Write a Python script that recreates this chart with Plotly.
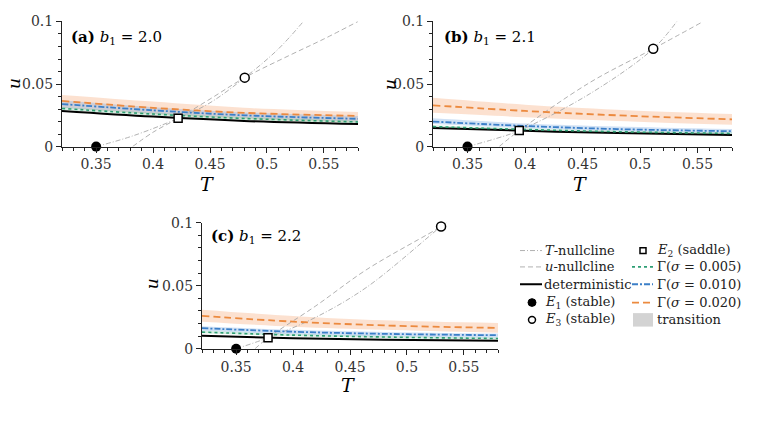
import plotly.graph_objects as go

W, H = 778, 427

# ---------------- data ----------------
T_grid = [0.32, 0.40, 0.48, 0.58]

panels = {
    "a": dict(
        label="(a)", b1="2.0",
        det=[0.0285, 0.0240, 0.0205, 0.0180],
        g005=[0.0305, 0.0260, 0.0225, 0.0197],
        g010=[0.0340, 0.0290, 0.0250, 0.0222],
        g020=[0.0365, 0.0310, 0.0270, 0.0245],
        b005_lo=[0.0293, 0.0248, 0.0213, 0.0185], b005_hi=[0.0317, 0.0272, 0.0237, 0.0209],
        b010_lo=[0.0310, 0.0265, 0.0228, 0.0200], b010_hi=[0.0370, 0.0315, 0.0273, 0.0245],
        b020_lo=[0.0310, 0.0260, 0.0220, 0.0195], b020_hi=[0.0413, 0.0360, 0.0310, 0.0277],
        Tnull_T=[0.35, 0.382, 0.422, 0.450, 0.4805, 0.510, 0.532],
        Tnull_u=[0.0, 0.0085, 0.0226, 0.0350, 0.0551, 0.0780, 0.100],
        unull_T=[0.382, 0.400, 0.422, 0.450, 0.4805, 0.520, 0.550, 0.580],
        unull_u=[0.0, 0.0115, 0.0226, 0.0380, 0.0551, 0.0730, 0.0860, 0.100],
        E1=(0.35, 0.0), E2=(0.422, 0.0226), E3=(0.4805, 0.0551),
    ),
    "b": dict(
        label="(b)", b1="2.1",
        det=[0.0149, 0.0126, 0.0108, 0.0092],
        g005=[0.0160, 0.0137, 0.0119, 0.0105],
        g010=[0.0200, 0.0165, 0.0140, 0.0123],
        g020=[0.0330, 0.0285, 0.0250, 0.0218],
        b005_lo=[0.0150, 0.0128, 0.0110, 0.0096], b005_hi=[0.0170, 0.0146, 0.0128, 0.0114],
        b010_lo=[0.0180, 0.0148, 0.0125, 0.0105], b010_hi=[0.0226, 0.0185, 0.0160, 0.0140],
        b020_lo=[0.0270, 0.0235, 0.0205, 0.0174], b020_hi=[0.0390, 0.0335, 0.0295, 0.0260],
        Tnull_T=[0.35, 0.375, 0.395, 0.456, 0.5115, 0.532],
        Tnull_u=[0.0, 0.0065, 0.0128, 0.0420, 0.0782, 0.100],
        unull_T=[0.3775, 0.395, 0.456, 0.5115, 0.555],
        unull_u=[0.0, 0.0128, 0.0510, 0.0782, 0.100],
        E1=(0.35, 0.0), E2=(0.395, 0.0128), E3=(0.5115, 0.0782),
    ),
    "c": dict(
        label="(c)", b1="2.2",
        det=[0.0102, 0.0083, 0.0072, 0.0064],
        g005=[0.0132, 0.0108, 0.0093, 0.0081],
        g010=[0.0163, 0.0135, 0.0118, 0.0107],
        g020=[0.0260, 0.0215, 0.0185, 0.0165],
        b005_lo=[0.0122, 0.0099, 0.0085, 0.0073], b005_hi=[0.0142, 0.0117, 0.0101, 0.0089],
        b010_lo=[0.0142, 0.0115, 0.0098, 0.0087], b010_hi=[0.0178, 0.0150, 0.0133, 0.0120],
        b020_lo=[0.0214, 0.0175, 0.0150, 0.0127], b020_hi=[0.0310, 0.0260, 0.0225, 0.0204],
        Tnull_T=[0.35, 0.378, 0.420, 0.465, 0.530, 0.536],
        Tnull_u=[0.0, 0.0087, 0.0250, 0.0490, 0.0970, 0.101],
        unull_T=[0.3666, 0.378, 0.420, 0.465, 0.530, 0.536],
        unull_u=[0.0, 0.0087, 0.0340, 0.0630, 0.0970, 0.101],
        E1=(0.35, 0.0), E2=(0.378, 0.0087), E3=(0.530, 0.097),
    ),
}

x_tickvals = [0.35, 0.40, 0.45, 0.50, 0.55]
x_ticktext = ["0.35", "0.4", "0.45", "0.5", "0.55"]
y_tickvals = [0.0, 0.05, 0.1]
y_ticktext = ["0", "0.05", "0.1"]

# ---------------- styles ----------------
FONT = "DejaVu Serif"
C_GREEN = "#2e9e74"
C_BLUE = "#3b7fc8"
C_ORANGE = "#ec8a3f"
C_NULL = "#a8a8a8"
F_GREEN = "rgba(120,200,160,0.30)"
F_BLUE = "rgba(120,170,225,0.35)"
F_ORANGE = "rgba(245,170,120,0.35)"
DASH_T = "5px,2px,1px,2px"
DASH_U = "5px,3px"
DASH_BLUE = "6px,2px,2px,2px"
DASH_OR = "7px,4px"

def px(x):
    return x / W

def py(y):
    return 1 - y / H

# axis domains (pixels)
dom = {
    "a": dict(x=(62, 358), y=(14, 144), ax=""),
    "b": dict(x=(433, 732), y=(14, 144), ax="2"),
    "c": dict(x=(202, 498), y=(223, 354), ax="3"),
}

fig = go.Figure()

for key, p in panels.items():
    s = dom[key]["ax"]
    xa, ya = "x" + s, "y" + s

    def band(lo, hi, fill):
        fig.add_trace(go.Scatter(x=T_grid, y=lo, mode="lines", line=dict(width=0, shape="spline"),
                                 xaxis=xa, yaxis=ya, hoverinfo="skip"))
        fig.add_trace(go.Scatter(x=T_grid, y=hi, mode="lines", line=dict(width=0, shape="spline"),
                                 fill="tonexty", fillcolor=fill, xaxis=xa, yaxis=ya, hoverinfo="skip"))

    band(p["b020_lo"], p["b020_hi"], F_ORANGE)
    band(p["b010_lo"], p["b010_hi"], F_BLUE)
    band(p["b005_lo"], p["b005_hi"], F_GREEN)

    # nullclines
    fig.add_trace(go.Scatter(x=p["Tnull_T"], y=p["Tnull_u"], mode="lines",
                             line=dict(color=C_NULL, width=0.9, dash=DASH_T, shape="spline"),
                             xaxis=xa, yaxis=ya))
    fig.add_trace(go.Scatter(x=p["unull_T"], y=p["unull_u"], mode="lines",
                             line=dict(color=C_NULL, width=0.9, dash=DASH_U, shape="spline"),
                             xaxis=xa, yaxis=ya))

    # curves
    fig.add_trace(go.Scatter(x=T_grid, y=p["det"], mode="lines",
                             line=dict(color="black", width=2, shape="spline"), xaxis=xa, yaxis=ya))
    fig.add_trace(go.Scatter(x=T_grid, y=p["g005"], mode="lines",
                             line=dict(color=C_GREEN, width=1.6, dash="dot", shape="spline"), xaxis=xa, yaxis=ya))
    fig.add_trace(go.Scatter(x=T_grid, y=p["g010"], mode="lines",
                             line=dict(color=C_BLUE, width=1.8, dash=DASH_BLUE, shape="spline"), xaxis=xa, yaxis=ya))
    fig.add_trace(go.Scatter(x=T_grid, y=p["g020"], mode="lines",
                             line=dict(color=C_ORANGE, width=1.8, dash=DASH_OR, shape="spline"), xaxis=xa, yaxis=ya))

    # equilibria
    fig.add_trace(go.Scatter(x=[p["E1"][0]], y=[p["E1"][1]], mode="markers", cliponaxis=False,
                             marker=dict(symbol="circle", size=10, color="black"), xaxis=xa, yaxis=ya))
    fig.add_trace(go.Scatter(x=[p["E2"][0]], y=[p["E2"][1]], mode="markers", cliponaxis=False,
                             marker=dict(symbol="square", size=8, color="white",
                                         line=dict(color="black", width=1.5)), xaxis=xa, yaxis=ya))
    fig.add_trace(go.Scatter(x=[p["E3"][0]], y=[p["E3"][1]], mode="markers", cliponaxis=False,
                             marker=dict(symbol="circle", size=9, color="white",
                                         line=dict(color="black", width=1.5)), xaxis=xa, yaxis=ya))

axis_common = dict(showline=True, linecolor="#222", linewidth=1, ticks="outside", ticklen=5,
                   tickcolor="#222", showgrid=False, zeroline=False,
                   tickfont=dict(family=FONT, size=14, color="#333"))
layout = dict(width=W, height=H, margin=dict(l=0, r=0, t=0, b=0),
              paper_bgcolor="white", plot_bgcolor="white", showlegend=False)

for key, d in dom.items():
    s = d["ax"]
    layout["xaxis" + s] = dict(axis_common, domain=[px(d["x"][0]), px(d["x"][1])], range=[0.32, 0.58],
                               tickvals=x_tickvals, ticktext=x_ticktext, anchor="y" + s,
                               minor=dict(ticks="outside", dtick=0.01, tick0=0.32, ticklen=3, tickcolor="#222"))
    layout["yaxis" + s] = dict(axis_common, domain=[py(d["y"][1]), py(d["y"][0])], range=[0, 0.1],
                               tickvals=y_tickvals, ticktext=y_ticktext, anchor="x" + s,
                               minor=dict(ticks="outside", dtick=0.01, tick0=0, ticklen=3, tickcolor="#222"))

fig.update_layout(**layout)

ann = []
# panel labels
for key, (x0, y0) in {"a": (69, 31), "b": (442, 31), "c": (209, 237)}.items():
    p = panels[key]
    ann.append(dict(text=f"<b>{p['label']}</b> <i>b</i><sub>1</sub> = {p['b1']}", x=px(x0), y=py(y0),
                    xref="paper", yref="paper", xanchor="left", yanchor="middle", showarrow=False,
                    font=dict(family=FONT, size=15, color="black")))
# axis titles
for (x0, y0) in [(207, 183), (580, 183), (348, 392)]:
    ann.append(dict(text="<i>T</i>", x=px(x0), y=py(y0), xref="paper", yref="paper", showarrow=False,
                    xanchor="center", yanchor="middle",
                    font=dict(family=FONT, size=19, color="black")))
for (x0, y0) in [(14, 79), (390, 79), (152, 287)]:
    ann.append(dict(text="<i>u</i>", x=px(x0), y=py(y0), xref="paper", yref="paper", showarrow=False,
                    xanchor="center", yanchor="middle",
                    textangle=-90, font=dict(family=FONT, size=17, color="black")))

# ---------------- legend (manual) ----------------
rows = [252, 269, 287, 306, 324]
shapes = []
def leg_line(x0, x1, y, color, width, dash):
    shapes.append(dict(type="line", xref="paper", yref="paper", x0=px(x0), x1=px(x1), y0=py(y), y1=py(y),
                       line=dict(color=color, width=width, dash=dash)))
def leg_text(x, y, t):
    ann.append(dict(text=t, x=px(x), y=py(y), xref="paper", yref="paper", xanchor="left", yanchor="middle",
                    showarrow=False, font=dict(family=FONT, size=13, color="#222")))

c1a, c1b, c1t = 520, 542, 543
c2a, c2b, c2t = 632, 653, 655
leg_line(c1a, c1b, rows[0], C_NULL, 0.9, DASH_T); leg_text(c1t, rows[0], "<i>T</i>-nullcline")
leg_line(c1a, c1b, rows[1], C_NULL, 0.9, DASH_U); leg_text(c1t, rows[1], "<i>u</i>-nullcline")
leg_line(c1a, c1b, rows[2], "black", 2, "solid"); leg_text(c1t - 1, rows[2], "deterministic")
shapes.append(dict(type="circle", xref="paper", yref="paper", x0=px(528), x1=px(536), y0=py(rows[3] + 4),
                   y1=py(rows[3] - 4), fillcolor="black", line=dict(color="black", width=1)))
leg_text(c1t, rows[3], "<i>E</i><sub>1</sub> (stable)")
shapes.append(dict(type="circle", xref="paper", yref="paper", x0=px(528.5), x1=px(535.5), y0=py(rows[4] + 3.5),
                   y1=py(rows[4] - 3.5), fillcolor="white", line=dict(color="black", width=1.5)))
leg_text(c1t, rows[4], "<i>E</i><sub>3</sub> (stable)")

shapes.append(dict(type="rect", xref="paper", yref="paper", x0=px(640), x1=px(646), y0=py(rows[0] + 3),
                   y1=py(rows[0] - 3), fillcolor="white", line=dict(color="black", width=1.5)))
leg_text(c2t, rows[0], "<i>E</i><sub>2</sub> (saddle)")
leg_line(c2a, c2b, rows[1], C_GREEN, 1.6, "dot"); leg_text(c2t, rows[1], "Γ(<i>σ</i> = 0.005)")
leg_line(c2a, c2b, rows[2], C_BLUE, 1.8, DASH_BLUE); leg_text(c2t, rows[2], "Γ(<i>σ</i> = 0.010)")
leg_line(c2a, c2b, rows[3], C_ORANGE, 1.8, DASH_OR); leg_text(c2t, rows[3], "Γ(<i>σ</i> = 0.020)")
shapes.append(dict(type="rect", xref="paper", yref="paper", x0=px(633), x1=px(653), y0=py(331), y1=py(317),
                   fillcolor="#d3d3d3", line=dict(width=0)))
leg_text(c2t, rows[4], "transition")

fig.update_layout(annotations=ann, shapes=shapes)
fig.write_html("out.html")
